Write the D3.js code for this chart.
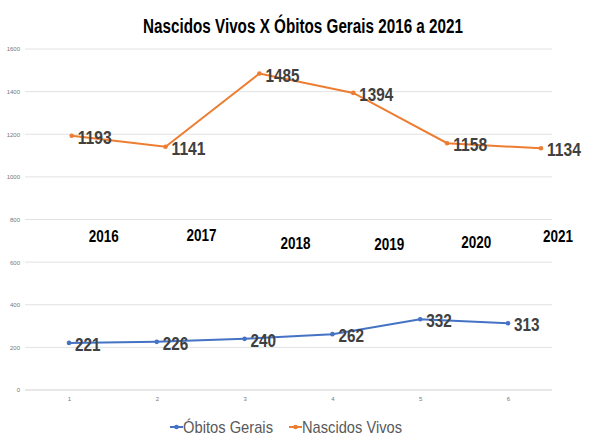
<!DOCTYPE html>
<html><head><meta charset="utf-8">
<script src="https://cdn.jsdelivr.net/npm/d3@7"></script>
<style>body{margin:0;background:#fff}svg{display:block}</style>
</head><body>
<svg id="c" width="600" height="448"></svg>
<script>
const years = ["2016","2017","2018","2019","2020","2021"];
const tickLabels = ["1","2","3","4","5","6"];
const nascidos = [1193,1141,1485,1394,1158,1134];
const obitos = [221,226,240,262,332,313];
const yTicks = [0,200,400,600,800,1000,1200,1400,1600];
const seriesNames = ["Óbitos Gerais","Nascidos Vivos"];

// layout (not data)
const yearDX = [32,36,36,36,29,17];
const yearY = [242,241,249,250,248,242];
const FONT = "'Liberation Sans',Arial,sans-serif";
const BLUE = "#4472C4", ORANGE = "#ED7D31";
const DIGIT_W = 8.5;   // condensed digit width for data labels
const YEAR_W = 7.5;

const svg = d3.select("#c");
const y = d3.scaleLinear().domain([0,1600]).range([390,49]);
const xTick = d3.scalePoint().domain(tickLabels).range([69,508]);
const xOr = d3.scalePoint().domain(tickLabels).range([71.7,541]);

// gridlines
svg.append("g").selectAll("line").data(yTicks).join("line")
  .attr("x1",25).attr("x2",552).attr("y1",d=>y(d)).attr("y2",d=>y(d))
  .attr("stroke",d=>d===0?"#d0d0d0":"#e2e2e2").attr("stroke-width",1);
// y labels
const yAxis = d3.axisLeft(y).tickValues(yTicks).tickFormat(d3.format("d")).tickSize(0).tickPadding(0);
const ga = svg.append("g").attr("transform","translate(20,0)").call(yAxis);
ga.select(".domain").remove();
ga.selectAll("text").attr("font-family",FONT).attr("font-size",6).attr("fill","#777");
// x labels
const xAxis = d3.axisBottom(xTick).tickSize(0).tickPadding(0);
const gx = svg.append("g").attr("transform","translate(0,397)").call(xAxis);
gx.select(".domain").remove();
gx.selectAll("text").attr("font-family",FONT).attr("font-size",6).attr("fill","#777");

// title
svg.append("text").attr("x",143).attr("y",33)
  .attr("font-family",FONT).attr("font-weight","bold").attr("font-size",20).attr("fill","#000")
  .attr("textLength",320).attr("lengthAdjust","spacingAndGlyphs")
  .text("Nascidos Vivos X Óbitos Gerais 2016 a 2021");

function drawSeries(vals, xs, color){
  const line = d3.line().x((d,i)=>xs(tickLabels[i])).y(d=>y(d));
  svg.append("path").datum(vals).attr("d",line).attr("fill","none")
    .attr("stroke",color).attr("stroke-width",2);
  svg.append("g").selectAll("circle").data(vals).join("circle")
    .attr("cx",(d,i)=>xs(tickLabels[i])).attr("cy",d=>y(d)).attr("r",2.3).attr("fill",color);
  svg.append("g").selectAll("text").data(vals).join("text")
    .attr("x",(d,i)=>xs(tickLabels[i])+6).attr("y",d=>y(d)+8)
    .attr("font-family",FONT).attr("font-weight","bold").attr("font-size",19).attr("fill","#404040")
    .attr("textLength",d=>String(d).length*DIGIT_W).attr("lengthAdjust","spacingAndGlyphs")
    .text(d=>d);
}
drawSeries(nascidos, xOr, ORANGE);
drawSeries(obitos, xTick, BLUE);

// year labels
svg.append("g").selectAll("text").data(years).join("text")
  .attr("x",(d,i)=>xOr(tickLabels[i])+yearDX[i]-15).attr("y",(d,i)=>yearY[i])
  .attr("font-family",FONT).attr("font-weight","bold")
  .attr("font-size",16).attr("fill","#000")
  .attr("textLength",d=>d.length*YEAR_W).attr("lengthAdjust","spacingAndGlyphs")
  .text(d=>d);

// legend
const legX = [170,289];
const legW = [90,100];
const legColors = [BLUE, ORANGE];
const lg = svg.append("g");
seriesNames.forEach((n,i)=>{
  lg.append("line").attr("x1",legX[i]).attr("x2",legX[i]+13).attr("y1",427).attr("y2",427)
    .attr("stroke",legColors[i]).attr("stroke-width",2);
  lg.append("circle").attr("cx",legX[i]+6.5).attr("cy",427).attr("r",2.3).attr("fill",legColors[i]);
  lg.append("text").attr("x",legX[i]+13).attr("y",433).attr("font-family",FONT)
    .attr("font-size",17).attr("fill","#595959")
    .attr("textLength",legW[i]).attr("lengthAdjust","spacingAndGlyphs").text(n);
});
</script>
</body></html>
